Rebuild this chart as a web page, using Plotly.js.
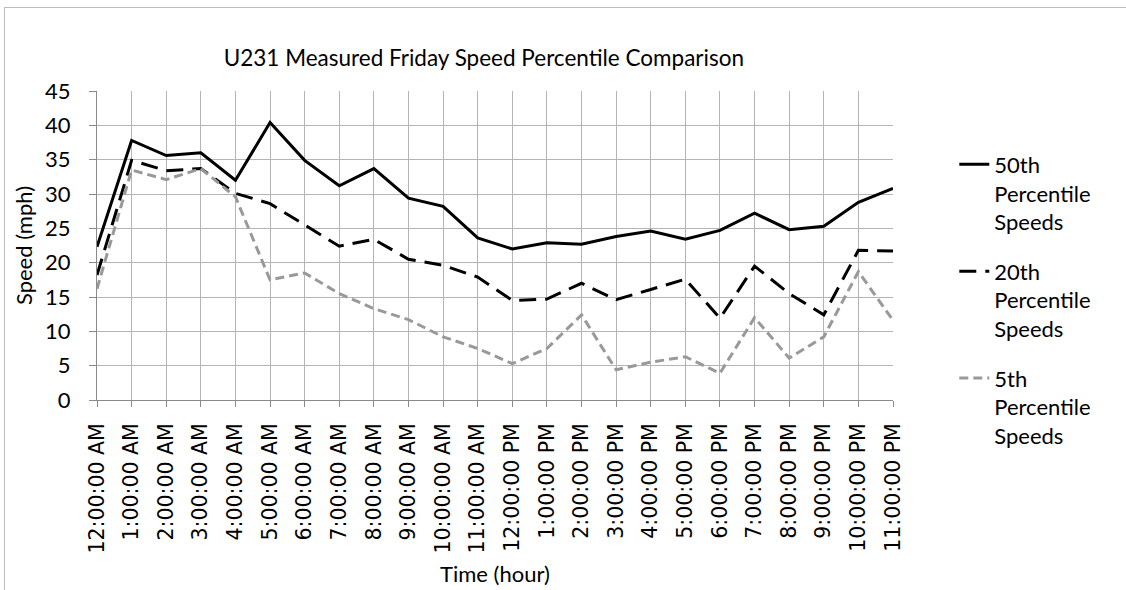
<!DOCTYPE html>
<html>
<head>
<meta charset="utf-8">
<script src="https://cdn.plot.ly/plotly-3.0.1.min.js"></script>
<style>
  body { margin: 0; background: #fff; }
  #wrap { position: relative; width: 1126px; height: 590px; overflow: hidden; }
  #chart { width: 1126px; height: 590px; }
  #frame { position: absolute; left: 4px; top: 7px; width: 1200px; height: 700px;
           border-left: 1px solid #bdbdbd; border-top: 1px solid #bdbdbd; pointer-events: none; }
</style>
</head>
<body>
<div id="wrap">
  <div id="chart"></div>
  <div id="frame"></div>
</div>
<script>
const hours = [
  '12:00:00 AM', '1:00:00 AM', '2:00:00 AM', '3:00:00 AM', '4:00:00 AM', '5:00:00 AM',
  '6:00:00 AM', '7:00:00 AM', '8:00:00 AM', '9:00:00 AM', '10:00:00 AM', '11:00:00 AM',
  '12:00:00 PM', '1:00:00 PM', '2:00:00 PM', '3:00:00 PM', '4:00:00 PM', '5:00:00 PM',
  '6:00:00 PM', '7:00:00 PM', '8:00:00 PM', '9:00:00 PM', '10:00:00 PM', '11:00:00 PM'
];

const p50 = [22.3, 37.8, 35.6, 36.0, 32.0, 40.4, 34.9, 31.2, 33.7, 29.4, 28.2, 23.6,
             22.0, 22.9, 22.7, 23.8, 24.6, 23.4, 24.7, 27.2, 24.8, 25.3, 28.8, 30.8];
const p20 = [18.2, 34.9, 33.4, 33.7, 30.1, 28.6, 25.5, 22.4, 23.4, 20.5, 19.6, 17.9,
             14.5, 14.7, 17.0, 14.6, 16.1, 17.6, 11.9, 19.5, 15.5, 12.4, 21.8, 21.7];
const p5 = [16.2, 33.5, 32.1, 33.7, 29.6, 17.5, 18.5, 15.5, 13.3, 11.7, 9.2, 7.5,
            5.3, 7.5, 12.4, 4.4, 5.5, 6.3, 3.9, 12.0, 6.1, 9.2, 18.7, 11.6];

const seriesNames = ['50th<br>Percentile<br>Speeds', '20th<br>Percentile<br>Speeds', '5th<br>Percentile<br>Speeds'];

const idx = hours.map((h, i) => i);
const labelFont = 'Lato, "Open Sans", sans-serif';

const traces = [
  { x: idx, y: p50, name: seriesNames[0], type: 'scatter', mode: 'lines', legendgroup: 'a',
    line: { color: '#000000', width: 3 } },
  { x: idx, y: p20, name: seriesNames[1], type: 'scatter', mode: 'lines', legendgroup: 'b',
    line: { color: '#000000', width: 3, dash: '17px,9px' } },
  { x: idx, y: p5, name: seriesNames[2], type: 'scatter', mode: 'lines', legendgroup: 'c',
    line: { color: '#999999', width: 3, dash: '9px,5px' } }
];

const layout = {
  width: 1126,
  height: 590,
  margin: { l: 97, r: 233, t: 91, b: 190 },
  paper_bgcolor: 'rgba(0,0,0,0)',
  plot_bgcolor: '#ffffff',
  font: { family: labelFont, color: '#000000' },
  title: {
    text: 'U231 Measured Friday Speed Percentile Comparison',
    font: { family: labelFont, size: 22.5, color: '#000000' },
    x: 0.486, xanchor: 'center', xref: 'paper',
    y: 1 - 58 / 590, yanchor: 'middle', yref: 'container'
  },
  xaxis: {
    range: [0, 23],
    tickmode: 'array',
    tickvals: idx,
    ticktext: hours,
    tickangle: -90,
    tickfont: { family: '"DejaVu Sans", sans-serif', size: 20.5, color: '#000000' },
    ticks: 'outside', ticklen: 6, tickcolor: '#8a8a8a',
    ticklabelstandoff: 8,
    showgrid: true, gridcolor: '#b5b5b5', gridwidth: 1,
    showline: true, linecolor: '#8a8a8a', linewidth: 1,
    zeroline: false,
    automargin: false,
    title: { text: 'Time (hour)', font: { family: labelFont, size: 22, color: '#000000' }, standoff: 14 }
  },
  yaxis: {
    range: [0, 45],
    tickmode: 'linear', tick0: 0, dtick: 5,
    tickfont: { family: labelFont, size: 22, color: '#000000' },
    ticks: 'outside', ticklen: 7, tickcolor: '#8a8a8a',
    ticklabelstandoff: 14,
    showgrid: true, gridcolor: '#b5b5b5', gridwidth: 1,
    showline: true, linecolor: '#8a8a8a', linewidth: 1,
    zeroline: false,
    automargin: false,
    title: { text: 'Speed (mph)', font: { family: labelFont, size: 22, color: '#000000' }, standoff: 6 }
  },
  legend: {
    x: 1.077, xanchor: 'left', y: 0.83, yanchor: 'top',
    font: { family: labelFont, size: 22, color: '#000000' },
    traceorder: 'grouped', tracegroupgap: 18,
    valign: 'top',
    bgcolor: 'rgba(0,0,0,0)'
  },
  showlegend: true
};

Plotly.newPlot('chart', traces, layout, { displayModeBar: false, staticPlot: true });
</script>
</body>
</html>
